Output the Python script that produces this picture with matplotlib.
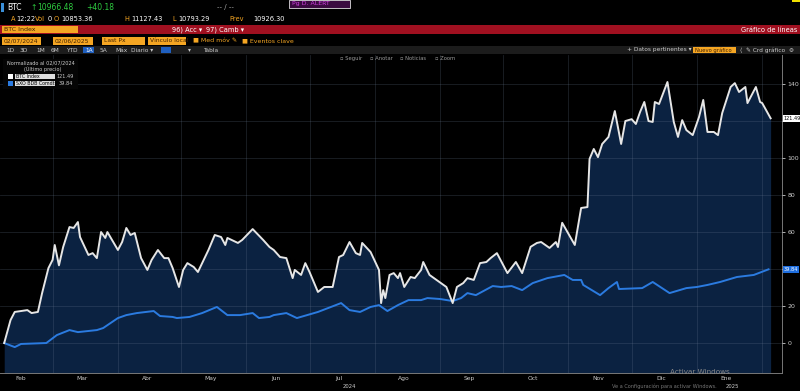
import matplotlib
matplotlib.use("Agg")
import matplotlib.pyplot as plt
import matplotlib.dates as mdates
from matplotlib.patches import Rectangle
import pandas as pd

# Datos (dias desde 07/02/2024, valor normalizado)
inicio = pd.Timestamp("2024-02-07")

btc_dias = [0, 3, 5, 11, 13, 16, 18, 21, 23, 24, 26, 28, 31, 33, 35, 36, 40, 42, 44, 46,
            48, 49, 54, 56, 58, 60, 62, 65, 68, 70, 73, 76, 78, 80, 83, 85, 87, 90, 92, 94,
            97, 100, 103, 105, 106, 111, 113, 118, 123, 126, 128, 131, 134, 137, 138, 141, 143, 145, 149, 152,
            156, 159, 161, 164, 167, 169, 170, 174, 178, 179, 180, 181, 183, 185, 187, 188, 190, 193, 195, 198,
            199, 202, 210, 213, 215, 218, 220, 223, 226, 229, 231, 234, 239, 243, 246, 250, 253, 255, 259, 262,
            263, 265, 271, 274, 277, 278, 280, 282, 284, 287, 290, 293, 295, 298, 300, 302, 304, 306, 308, 309,
            311, 315, 318, 320, 322, 324, 327, 330, 332, 334, 337, 339, 341, 345, 347, 349, 352, 353, 357, 359,
            360, 364]
btc_vals = [0, 12.4, 16.8, 17.8, 16.2, 16.8, 27, 40.5, 45, 53, 42, 51.9, 62.7, 62.2, 65.4, 57.3, 47.6, 48.6, 45.9, 60,
            56.8, 60, 50.3, 54.6, 62.2, 58.4, 59.5, 45.9, 39.5, 44.9, 50.3, 45.9, 45.9, 40.5, 30.3, 39.5, 43.2, 41.1, 38.4, 43.2,
            50.3, 58.4, 57.3, 53, 56.8, 54.1, 55.7, 61.6, 55.7, 51.9, 50.3, 46.5, 45.9, 35.1, 39.5, 36.8, 43.2, 38.4, 27.6, 30.3,
            30.3, 46.5, 47.6, 54.6, 48.6, 47.6, 54.1, 49.2, 39.5, 21.6, 28.6, 24.3, 36.8, 37.8, 35.1, 37.8, 30.3, 35.7, 35.1, 39.5,
            43.8, 36.8, 30.3, 21.6, 30.3, 32.4, 35.1, 34.1, 43.2, 43.8, 45.9, 48.6, 37.8, 43.8, 37.8, 52, 54.1, 54.6, 51.4, 54.6,
            51.9, 65, 53, 73, 73.5, 99.5, 104.9, 100.5, 107.6, 111.4, 125.4, 107.6, 120, 121, 118.4, 124.9, 130.3, 120, 119.5, 130.3,
            129.2, 141.1, 119.5, 111.4, 120.5, 115.1, 112.4, 122.2, 131.4, 114.1, 114.1, 112.4, 124.3, 138.4, 140.5, 135.7, 138.4, 129.7, 138.4, 130.3,
            129.7, 121.49]

cmp_dias = [0, 5, 8, 20, 25, 31, 35, 44, 47, 54, 58, 63, 71, 74, 80, 82, 88, 94, 101, 106,
            112, 118, 121, 126, 128, 134, 139, 149, 160, 164, 169, 174, 178, 182, 187, 192, 198, 201, 207, 213,
            217, 220, 224, 232, 236, 241, 246, 251, 258, 266, 270, 274, 275, 283, 287, 291, 292, 303, 308, 316,
            324, 329, 334, 340, 348, 356, 363]
cmp_vals = [0, -2.2, -0.5, 0, 4.3, 7, 5.9, 7, 8.1, 13.5, 15.1, 16.2, 17.3, 14.6, 14.1, 13.5, 14.1, 16.2, 19.5, 15.1,
            15.1, 16.2, 13.5, 14.1, 15.1, 16.2, 13.5, 16.8, 21.6, 17.8, 16.8, 19.5, 20.5, 17.3, 20.5, 23.2, 23.2, 24.3, 23.8, 22.7,
            24.3, 27, 25.9, 30.8, 30.3, 30.8, 28.6, 32.4, 35.1, 36.8, 34.1, 34.1, 31.4, 25.9, 29.7, 33, 29.2, 29.7, 33, 27,
            29.7, 30.3, 31.4, 33, 35.7, 36.8, 39.84]

meses = ["Feb", "Mar", "Abr", "May", "Jun", "Jul", "Ago", "Sep", "Oct", "Nov", "Dic", "Ene"]
serie_btc = "BTC Index"
serie_cmp = "SXO BDB Comdty"

btc_fechas = inicio + pd.to_timedelta(btc_dias, unit="D")
cmp_fechas = inicio + pd.to_timedelta(cmp_dias, unit="D")

W, H = 800, 391
fig = plt.figure(figsize=(8, 3.91), dpi=100, facecolor="black")


def fx(x):
    return x / W


def fy(y):
    return 1 - y / H


def caja(x0, y0, x1, y1, color, borde=None):
    fig.patches.append(Rectangle((fx(x0), fy(y1)), (x1 - x0) / W, (y1 - y0) / H,
                                 transform=fig.transFigure, facecolor=color,
                                 edgecolor=borde if borde else "none", lw=0.6))


def texto(x, y, s, color="white", size=5, ha="left", **kw):
    fig.text(fx(x), fy(y), s, color=color, fontsize=size, ha=ha, va="center", **kw)


naranja = "#f5a623"
rojo = "#a01020"
verde = "#2ecc40"

# --- cabecera tipo terminal ---
caja(1, 3, 4, 12, "#3a8fd8")
texto(7, 8, "BTC", size=5.5)
texto(30, 8, "↑", color=verde, size=5.5)
texto(37, 8, "10966.48", color=verde, size=5.5)
texto(86, 8, "+40.18", color=verde, size=5.5)
texto(217, 7, "-- / --", color="#aaaaaa", size=5)
caja(289, 0, 350, 8, "#3a0a40", borde="#dddddd")
texto(292, 4, "Pg D. ALERT", color="#d040e0", size=4.5)
caja(792, 0, 800, 2, "#f0e000")

texto(11, 19, "A", color=naranja, size=4.8)
texto(16, 19, "12:22", size=4.8)
texto(35, 19, "Vol", color=naranja, size=4.8)
texto(48, 19, "0", color="white", size=4.8)
texto(54, 19, "O", color=naranja, size=4.8)
texto(61, 19, "10853.36", size=4.8)
texto(124, 19, "H", color=naranja, size=4.8)
texto(131, 19, "11127.43", size=4.8)
texto(172, 19, "L", color=naranja, size=4.8)
texto(178, 19, "10793.29", size=4.8)
texto(229, 19, "Prev", color=naranja, size=4.8)
texto(253, 19, "10926.30", size=4.8)

caja(0, 25, 800, 34, rojo)
caja(2, 26, 78, 33, naranja)
texto(4, 29.5, "BTC Index", color="#402000", size=4.5)
texto(172, 29.5, "96) Acc ▾", size=4.8)
texto(206, 29.5, "97) Camb ▾", size=4.8)
texto(797, 29.5, "Gráfico de líneas", size=4.8, ha="right")

for x0, x1, s in [(2, 41, "02/07/2024"), (53, 93, "02/06/2025"),
                  (102, 145, "Last Px"), (148, 186, "Vínculo local")]:
    caja(x0, 37, x1, 45, naranja)
    texto(x0 + 2, 41, s, color="#402000", size=4.3)
texto(193, 41, "■ Med móv ✎", color=naranja, size=4.5)
texto(242, 41, "■ Eventos clave", color=naranja, size=4.5)

caja(0, 46, 800, 54, "#1c1c1c")
for x, s in [(6, "1D"), (20, "3D"), (36, "1M"), (51, "6M"), (66, "YTD"),
             (100, "5A"), (115, "Máx"), (131, "Diario ▾"), (188, "▾"), (203, "Tabla")]:
    texto(x, 50, s, color="#cccccc", size=4.2)
caja(83, 47, 94, 53, "#1f5fbf")
texto(85, 50, "1A", size=4.2)
caja(161, 47, 171, 53, "#1f5fbf")
texto(627, 50, "+ Datos pertinentes ▾", color="#cccccc", size=4.2)
caja(693, 47, 736, 53, naranja)
texto(695, 50, "Nuevo gráfico", color="#402000", size=3.8)
texto(740, 50, "⟨  ✎ Crd gráfico  ⚙", color="#cccccc", size=4.2)

texto(340, 58.5, "▫ Seguir", color="#999999", size=3.8)
texto(370, 58.5, "▫ Anotar", color="#999999", size=3.8)
texto(400, 58.5, "▫ Noticias", color="#999999", size=3.8)
texto(435, 58.5, "▫ Zoom", color="#999999", size=3.8)

# --- grafico ---
ax = fig.add_axes([fx(0), fy(373), 782 / W, (373 - 55) / H])
ax.set_facecolor("black")

navy = "#0b2241"
ax.fill_between(btc_fechas, btc_vals, -30, color=navy, zorder=1, lw=0)
ax.plot(cmp_fechas, cmp_vals, color="#2b7be0", lw=1.4, zorder=3)
ax.plot(btc_fechas, btc_vals, color="#e6e6e6", lw=1.4, zorder=4)

ax.set_ylim(-16.2, 155.7)
ax.set_xlim(inicio - pd.Timedelta(days=2), inicio + pd.Timedelta(days=369.4))

ax.yaxis.tick_right()
ax.set_yticks(range(0, 141, 20))
# las etiquetas 40 y 120 quedan tapadas por los recuadros de ultimo valor
ax.set_yticklabels(["0", "20", "", "60", "80", "100", "", "140"])
ax.tick_params(axis="y", colors="#cccccc", labelsize=4.5, length=2, width=0.6, pad=2)

ax.xaxis.set_major_locator(mdates.MonthLocator())
ax.xaxis.set_major_formatter(plt.NullFormatter())
ax.xaxis.set_minor_locator(mdates.MonthLocator(bymonthday=15))
etiquetas = {}
for i, m in enumerate(meses):
    etiquetas[(i + 1) % 12 + 1] = m
ax.xaxis.set_minor_formatter(plt.FuncFormatter(lambda v, p: etiquetas[mdates.num2date(v).month]))
ax.tick_params(axis="x", which="both", length=0, colors="#cccccc", labelsize=4.3, pad=2.5)

ax.grid(True, which="major", color="#6f8099", alpha=0.25, lw=0.6)
ax.set_axisbelow(False)

for lado in ["top", "left"]:
    ax.spines[lado].set_visible(False)
ax.spines["right"].set_color("#777777")
ax.spines["bottom"].set_color("#777777")
ax.spines["right"].set_linewidth(0.7)
ax.spines["bottom"].set_linewidth(0.7)

trans = ax.get_yaxis_transform()
ax.text(1.002, btc_vals[-1], f"{btc_vals[-1]:.2f}", transform=trans, fontsize=3.6,
        color="black", va="center", ha="left", clip_on=False,
        bbox=dict(boxstyle="square,pad=0.2", fc="white", ec="none"))
ax.text(1.002, cmp_vals[-1], f"{cmp_vals[-1]:.2f}", transform=trans, fontsize=3.6,
        color="white", va="center", ha="left", clip_on=False,
        bbox=dict(boxstyle="square,pad=0.2", fc="#1f6fe0", ec="none"))

xt = ax.get_xaxis_transform()
ax.text(pd.Timestamp("2024-07-20"), -0.042, "2024", transform=xt, fontsize=3.8,
        color="#cccccc", ha="center", va="center")
ax.text(pd.Timestamp("2025-01-18"), -0.042, "2025", transform=xt, fontsize=3.8,
        color="#cccccc", ha="center", va="center")

# leyenda
caja(3, 59, 78, 89, "#050505")
texto(7, 63, "Normalizado al 02/07/2024", color="#cccccc", size=3.6)
texto(24, 69, "(Último precio)", color="#cccccc", size=3.6)
caja(8, 74, 13, 79, "white")
caja(15, 74, 55, 79, "#dddddd")
texto(16, 76.5, serie_btc, color="black", size=3.4)
texto(57, 76.5, f"{btc_vals[-1]:.2f}", color="#cccccc", size=3.6)
caja(8, 81, 13, 86, "#2b7be0")
caja(15, 81, 55, 86, "#dddddd")
texto(16, 83.5, serie_cmp, color="black", size=3.4)
texto(59, 83.5, f"{cmp_vals[-1]:.2f}", color="#cccccc", size=3.6)

# marca de agua de Windows (aparece en la captura)
texto(670, 371.5, "Activar Windows", color="#888888", size=5.2)
texto(612, 386, "Ve a Configuración para activar Windows.", color="#777777", size=3.6)

fig.savefig("out.png", dpi=100, facecolor="black")
